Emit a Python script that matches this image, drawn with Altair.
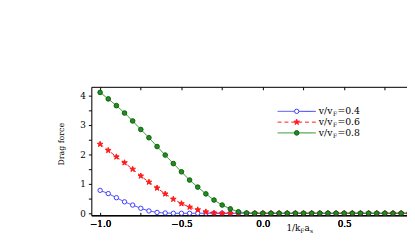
import altair as alt
import pandas as pd

# ---- data ----
x_vals = [-1.0, -0.95, -0.9, -0.85, -0.8, -0.75, -0.7, -0.65, -0.6, -0.55,
          -0.5, -0.45, -0.4, -0.35, -0.3, -0.25, -0.2, -0.15, -0.1, -0.05,
          0.0, 0.05, 0.1, 0.15, 0.2, 0.25, 0.3, 0.35, 0.4, 0.45,
          0.5, 0.55, 0.6, 0.65, 0.7, 0.75, 0.8, 0.85, 0.9, 0.95, 1.0]
v04 = [0.78, 0.67, 0.53, 0.39, 0.28, 0.17, 0.08, 0.03, 0.01, 0.0,
       0.0, 0.0, 0.0, 0.0, 0.0, 0.0, 0.0, 0.0, 0.0, 0.0,
       0.0, 0.0, 0.0, 0.0, 0.0, 0.0, 0.0, 0.0, 0.0, 0.0,
       0.0, 0.0, 0.0, 0.0, 0.0, 0.0, 0.0, 0.0, 0.0, 0.0, 0.0]
v06 = [2.35, 2.14, 1.92, 1.72, 1.50, 1.27, 1.06, 0.86, 0.66, 0.48,
       0.33, 0.21, 0.12, 0.05, 0.01, 0.0, 0.0, 0.0, 0.0, 0.0,
       0.0, 0.0, 0.0, 0.0, 0.0, 0.0, 0.0, 0.0, 0.0, 0.0,
       0.0, 0.0, 0.0, 0.0, 0.0, 0.0, 0.0, 0.0, 0.0, 0.0, 0.0]
v08 = [4.11, 3.89, 3.66, 3.41, 3.14, 2.85, 2.57, 2.27, 1.98, 1.69,
       1.41, 1.13, 0.89, 0.66, 0.45, 0.28, 0.15, 0.05, 0.01, 0.0,
       0.0, 0.0, 0.0, 0.0, 0.0, 0.0, 0.0, 0.0, 0.0, 0.0,
       0.0, 0.0, 0.0, 0.0, 0.0, 0.0, 0.0, 0.0, 0.0, 0.0, 0.0]
series_labels = ["0.4", "0.6", "0.8"]
x_tick_labels = [-1.0, -0.5, 0.0, 0.5]
y_tick_labels = [0, 1, 2, 3, 4]

# ---- styling ----
W, H = 322, 131
FONT = "DejaVu Serif"
BLUE, RED, GREEN, GREEN_D = "#3b3bff", "#ff1a1a", "#1f8f1f", "#0d5c0d"
STAR = ("M0,-1L0.235,-0.324L0.951,-0.309L0.380,0.124L0.588,0.809L0,0.4"
        "L-0.588,0.809L-0.380,0.124L-0.951,-0.309L-0.235,-0.324Z")

df = pd.DataFrame({"x": x_vals, "a": v04, "b": v06, "c": v08})

xscale = alt.Scale(domain=[-1.054, 0.886], nice=False, zero=False)
yscale = alt.Scale(domain=[-0.067, 4.3], nice=False, zero=False)

x_main = alt.X("x:Q", scale=xscale, axis=alt.Axis(
    values=x_tick_labels, format=".1f", tickSize=0, grid=False,
    labelFont=FONT, labelFontSize=9, labelColor="black", labelPadding=4,
    domainColor="black", title=None, orient="bottom"))
y_main = alt.Axis(values=[0, 0.5, 1, 1.5, 2, 2.5, 3, 3.5, 4],
                  labelExpr="datum.value % 1 == 0 ? format(datum.value, 'd') : ''",
                  tickSize=3, grid=False, tickColor="black", domainColor="black",
                  labelFont=FONT, labelFontSize=9, labelColor="black", labelPadding=3,
                  title="Drag force", titleFont=FONT, titleFontSize=8,
                  titleFontWeight="normal", titleColor="black",
                  titleX=-30, titleY=58, titleAlign="center", titleBaseline="middle",
                  titleAngle=-90)

base = alt.Chart(df)


def series(col, color, dash, shape, filled, fill, stroke, size):
    line = base.mark_line(color=color, strokeWidth=1, strokeDash=dash, clip=True).encode(
        x=x_main, y=alt.Y(f"{col}:Q", scale=yscale, axis=y_main))
    pts = base.mark_point(shape=shape, filled=filled, fill=fill, stroke=stroke,
                          strokeWidth=1, size=size, opacity=1, clip=True).encode(
        x=x_main, y=alt.Y(f"{col}:Q", scale=yscale, axis=y_main))
    return line + pts


STY = [
    (BLUE, [1, 0], "circle", False, "white", BLUE, 20),
    (RED, [4, 3], STAR, True, RED, RED, 36),
    (GREEN, [1, 0], "circle", True, GREEN, GREEN_D, 22),
]
s1 = series("a", *STY[0])
s2 = series("b", *STY[1])
s3 = series("c", *STY[2])

# inward ticks on top and bottom frame
quarter = [-1.0, -0.75, -0.5, -0.25, 0.0, 0.25, 0.5, 0.75]
top_ticks = base.mark_point(opacity=0).encode(
    x=alt.X("x:Q", scale=xscale, axis=alt.Axis(
        orient="bottom", offset=-H, values=quarter, labels=False, tickSize=3,
        tickColor="black", domainColor="black", grid=False, title=None)),
    y=alt.value(0))
bot_ticks = base.mark_point(opacity=0).encode(
    x=alt.X("x:Q", scale=xscale, axis=alt.Axis(
        orient="top", offset=-H, values=quarter, labels=False, tickSize=3,
        tickColor="black", domain=False, grid=False, title=None)),
    y=alt.value(0))

# legend
legend_layers = []
for i, (lab, st) in enumerate(zip(series_labels, STY)):
    color, dash, shape, filled, fill, stroke, size = st
    yy = 25 + 11 * i
    one = alt.Chart(pd.DataFrame({"t": [lab]}))
    legend_layers.append(one.mark_rule(color=color, strokeWidth=1, strokeDash=dash).encode(
        x=alt.value(190), x2=alt.value(229), y=alt.value(yy)))
    legend_layers.append(one.mark_point(shape=shape, filled=filled, fill=fill, stroke=stroke,
                                        strokeWidth=1, size=size, opacity=1).encode(
        x=alt.value(209.5), y=alt.value(yy)))
    legend_layers.append(one.mark_text(font=FONT, fontSize=9.5, align="left", baseline="middle",
                                       color="black").encode(
        x=alt.value(232), y=alt.value(yy), text=alt.value("v/v")))
    legend_layers.append(one.mark_text(font=FONT, fontSize=6, align="left", baseline="middle",
                                       color="black").encode(
        x=alt.value(246.5), y=alt.value(yy + 3), text=alt.value("F")))
    legend_layers.append(one.mark_text(font=FONT, fontSize=9.5, align="left", baseline="middle",
                                       color="black").encode(
        x=alt.value(251), y=alt.value(yy), text=alt.value("=" + lab)))

# x axis title 1/k_F a_s
tt = alt.Chart(pd.DataFrame({"t": [0]}))
title_layers = [
    tt.mark_text(font=FONT, fontSize=9, align="left", baseline="alphabetic", color="black").encode(
        x=alt.value(199), y=alt.value(147), text=alt.value("1/k")),
    tt.mark_text(font=FONT, fontSize=6, align="left", baseline="alphabetic", color="black").encode(
        x=alt.value(213), y=alt.value(149.5), text=alt.value("F")),
    tt.mark_text(font=FONT, fontSize=9, align="left", baseline="alphabetic", color="black").encode(
        x=alt.value(217.5), y=alt.value(147), text=alt.value("a")),
    tt.mark_text(font=FONT, fontSize=6, align="left", baseline="alphabetic", color="black").encode(
        x=alt.value(223), y=alt.value(149.5), text=alt.value("s")),
]

chart = alt.layer(s1, s2, s3, top_ticks, bot_ticks, *legend_layers, *title_layers).resolve_axis(
    x="independent").properties(
    width=W, height=H,
    autosize=alt.AutoSizeParams(type="none"),
    padding={"left": 85, "top": 78, "right": 0, "bottom": 32},
).configure_view(stroke=None).configure(background="white")

chart.save("out.html", embed_options={"renderer": "svg", "actions": False})
